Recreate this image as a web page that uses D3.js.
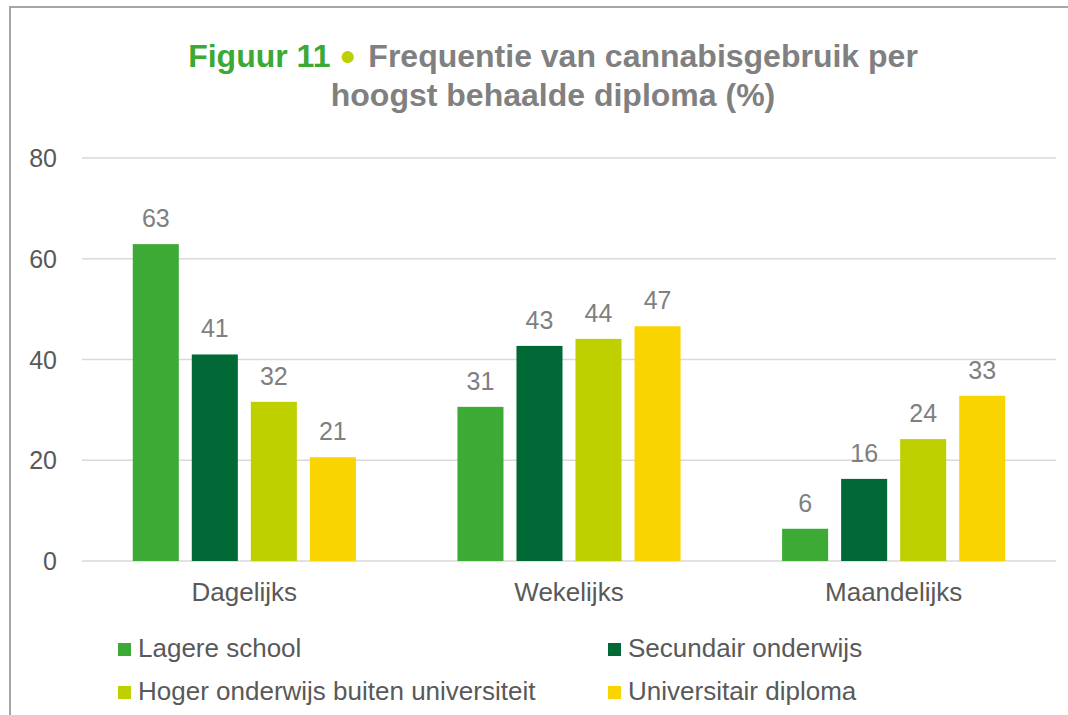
<!DOCTYPE html>
<html lang="nl">
<head>
<meta charset="utf-8">
<title>Figuur 11 - Frequentie van cannabisgebruik</title>
<script src="https://d3js.org/d3.v7.min.js"></script>
<style>
  body { margin: 0; background: #fff; }
  svg { display: block; font-family: "Liberation Sans", Arial, sans-serif; }
</style>
</head>
<body>
<script>
// categories and series
var categories = ["Dagelijks", "Wekelijks", "Maandelijks"];
var series = ["Lagere school", "Secundair onderwijs", "Hoger onderwijs buiten universiteit", "Universitair diploma"];

// values per series (%), in category order
var lagereSchool = [62.9, 30.6, 6.4];
var secundairOnderwijs = [41.0, 42.7, 16.3];
var hogerOnderwijs = [31.6, 44.1, 24.2];
var universitairDiploma = [20.6, 46.6, 32.8];

var yTicks = [0, 20, 40, 60, 80];
var colors = ["#3daa35", "#006935", "#bed000", "#fad400"];

var w = 1068, h = 715;
var plotLeft = 82, plotRight = 1056, plotTop = 158, plotBottom = 561;

var values = [lagereSchool, secundairOnderwijs, hogerOnderwijs, universitairDiploma];
var rows = [];
categories.forEach(function(c, ci) {
  series.forEach(function(s, si) {
    rows.push({cat: c, ser: s, si: si, v: values[si][ci]});
  });
});

var svg = d3.select("body").append("svg")
  .attr("width", w)
  .attr("height", h);

// chart frame
svg.append("rect")
  .attr("x", 10).attr("y", 7)
  .attr("width", 1100).attr("height", 800)
  .attr("fill", "#fff")
  .attr("stroke", "#a6a6a6")
  .attr("stroke-width", 2);

// scales
var x0 = d3.scaleBand().domain(categories).range([plotLeft, plotRight]);
var x1 = d3.scaleBand().domain(series).range([0, x0.bandwidth()])
  .paddingInner(0.22).paddingOuter(0.86);
var y = d3.scaleLinear().domain([0, 80]).range([plotBottom, plotTop]);

// gridlines
svg.append("g").selectAll("line")
  .data(yTicks)
  .enter().append("line")
  .attr("x1", plotLeft).attr("x2", plotRight)
  .attr("y1", function(d) { return y(d); })
  .attr("y2", function(d) { return y(d); })
  .attr("stroke", "#d9d9d9")
  .attr("stroke-width", 1.5);

// y axis labels
svg.append("g").selectAll("text")
  .data(yTicks)
  .enter().append("text")
  .attr("x", 57)
  .attr("y", function(d) { return y(d); })
  .attr("dy", "0.36em")
  .attr("text-anchor", "end")
  .attr("font-size", 25)
  .attr("fill", "#595959")
  .text(function(d) { return d; });

// bars
svg.append("g").selectAll("rect")
  .data(rows)
  .enter().append("rect")
  .attr("x", function(d) { return x0(d.cat) + x1(d.ser); })
  .attr("y", function(d) { return y(d.v); })
  .attr("width", x1.bandwidth())
  .attr("height", function(d) { return y(0) - y(d.v); })
  .attr("fill", function(d) { return colors[d.si]; });

// data labels
svg.append("g").selectAll("text")
  .data(rows)
  .enter().append("text")
  .attr("x", function(d) { return x0(d.cat) + x1(d.ser) + x1.bandwidth() / 2; })
  .attr("y", function(d) { return y(d.v) - 17; })
  .attr("text-anchor", "middle")
  .attr("font-size", 25)
  .attr("fill", "#7f7f7f")
  .text(function(d) { return Math.round(d.v); });

// category labels
svg.append("g").selectAll("text")
  .data(categories)
  .enter().append("text")
  .attr("x", function(d) { return x0(d) + x0.bandwidth() / 2; })
  .attr("y", 601)
  .attr("text-anchor", "middle")
  .attr("font-size", 26)
  .attr("fill", "#595959")
  .text(function(d) { return d; });

// title
var t1 = svg.append("text")
  .attr("x", 553).attr("y", 67)
  .attr("text-anchor", "middle")
  .attr("font-size", 32)
  .attr("font-weight", "bold");
t1.append("tspan").attr("fill", "#3aa935").text("Figuur 11");
t1.append("tspan").attr("fill", "#bccf00").attr("font-size", 28).attr("dx", 9).attr("dy", -2).text("\u25CF");
t1.append("tspan").attr("fill", "#808080").attr("dx", 12).attr("dy", 2).text("Frequentie van cannabisgebruik per");

svg.append("text")
  .attr("x", 553).attr("y", 106)
  .attr("text-anchor", "middle")
  .attr("font-size", 32)
  .attr("font-weight", "bold")
  .attr("fill", "#808080")
  .text("hoogst behaalde diploma (%)");

// legend
var legendX = [118, 608];
var legendY = [643, 686];
var leg = svg.append("g").selectAll("g")
  .data(series)
  .enter().append("g")
  .attr("transform", function(d, i) {
    return "translate(" + legendX[i % 2] + "," + legendY[Math.floor(i / 2)] + ")";
  });
leg.append("rect")
  .attr("width", 13).attr("height", 13)
  .attr("fill", function(d, i) { return colors[i]; });
leg.append("text")
  .attr("x", 20).attr("y", 14)
  .attr("font-size", 26)
  .attr("fill", "#595959")
  .text(function(d) { return d; });
</script>
</body>
</html>
